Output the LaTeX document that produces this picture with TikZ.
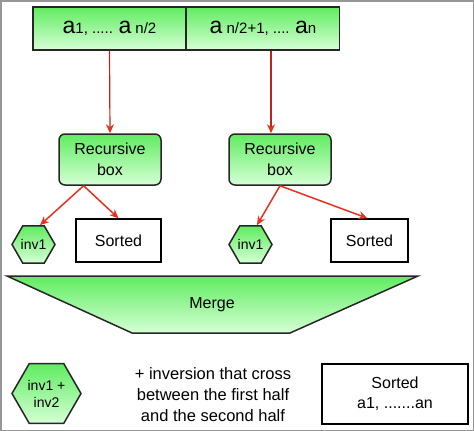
\documentclass[tikz,border=0pt]{standalone}
\usepackage{fontspec}
\setmainfont{Liberation Sans}
\usetikzlibrary{shapes.geometric,calc,arrows.meta}
\definecolor{gtop}{RGB}{96,236,96}
\definecolor{gbot}{RGB}{214,255,214}
\definecolor{arrred}{RGB}{232,48,32}
\definecolor{framegray}{RGB}{150,150,150}
\newcommand{\bigA}{{\fontsize{23}{23}\selectfont a}}
\newcommand{\smallT}[1]{{\fontsize{15}{15}\selectfont #1}}
\begin{document}
\begin{tikzpicture}[x=1pt,y=-1pt,
  greenfill/.style={top color=gtop,bottom color=gbot,draw=black!85,line width=1.5pt},
  topbox/.style={greenfill,rectangle,minimum width=153pt,minimum height=43pt,inner sep=0pt},
  recbox/.style={greenfill,rectangle,rounded corners=6pt,minimum width=102pt,minimum height=51pt,align=center,inner sep=0pt,font=\fontsize{16}{20.5}\selectfont},
  hexa/.style={greenfill,regular polygon,regular polygon sides=6,inner sep=0pt,font=\fontsize{14}{17}\selectfont,align=center},
  sortbox/.style={rectangle,draw=black,line width=1.5pt,fill=white,minimum height=43pt,inner sep=0pt,font=\fontsize{16}{20}\selectfont,align=center},
  arr/.style={draw=arrred,line width=1.5pt,-{Stealth[length=9pt,width=8pt]}},
  arrthin/.style={draw=arrred!80!black,line width=1.2pt,-{Stealth[length=9pt,width=8pt,fill=arrred,color=arrred]},}
]
\useasboundingbox (0,0) rectangle (474,431);
\draw[framegray,line width=1.5pt] (0.75,0.75) rectangle (473.25,430.25);

% top boxes
\node[topbox] (t1) at (109.5,28.5) {\bigA\smallT{1, ..... }\bigA\smallT{ n/2}};
\node[topbox] (t2) at (263,28.5) {\bigA\smallT{ n/2+1, .... }\bigA\smallT{n}};

% recursive boxes
\node[recbox] (rb1) at (110,159.5) {Recursive\\box};
\node[recbox] (rb2) at (280,159.5) {Recursive\\box};

% hexagons and sorted
\node[hexa,minimum size=43pt] (h1) at (33.5,244.5) {inv1};
\node[sortbox,minimum width=85pt] (s1) at (118.5,240.5) {Sorted};
\node[hexa,minimum size=43pt] (h2) at (250.5,244.5) {inv1};
\node[sortbox,minimum width=77pt] (s2) at (369.5,240.5) {Sorted};

% arrows
\draw[arrthin] (t1.south) -- (rb1.north);
\draw[arrthin] ($(t2.south)+(8,0)$) coordinate (t2a) -- (t2a |- rb2.north);
\coordinate (rb1o) at ($(rb1.south west)!0.245!(rb1.south east)$);
\draw[arr] (rb1o) -- ($(h1.north)+(6.5,0)$);
\draw[arr] (rb1o) -- (s1.north);
\draw[arr] (rb2.south) -- ($(h2.north)+(6.5,0)$);
\draw[arr] (rb2.south) -- ($(s2.north)+(-2,0)$);

% merge
\draw[greenfill] (7,276) -- (418,276) -- (290,333) -- (132,333) -- cycle;
\node[font=\fontsize{16}{20}\selectfont] (merge) at (212,305) {Merge};

% bottom row
\node[hexa,minimum size=69pt] (h3) at (46.5,393.5) {inv1 +\\inv2};
\node[align=center,font=\fontsize{16.5}{21}\selectfont] (txt) at (213,395) {+ inversion that cross\\between the first half\\and the second half};
\node[sortbox,minimum width=146pt,minimum height=60pt] (s3) at (395,394) {Sorted\\a1, .......an};
\end{tikzpicture}
\end{document}
